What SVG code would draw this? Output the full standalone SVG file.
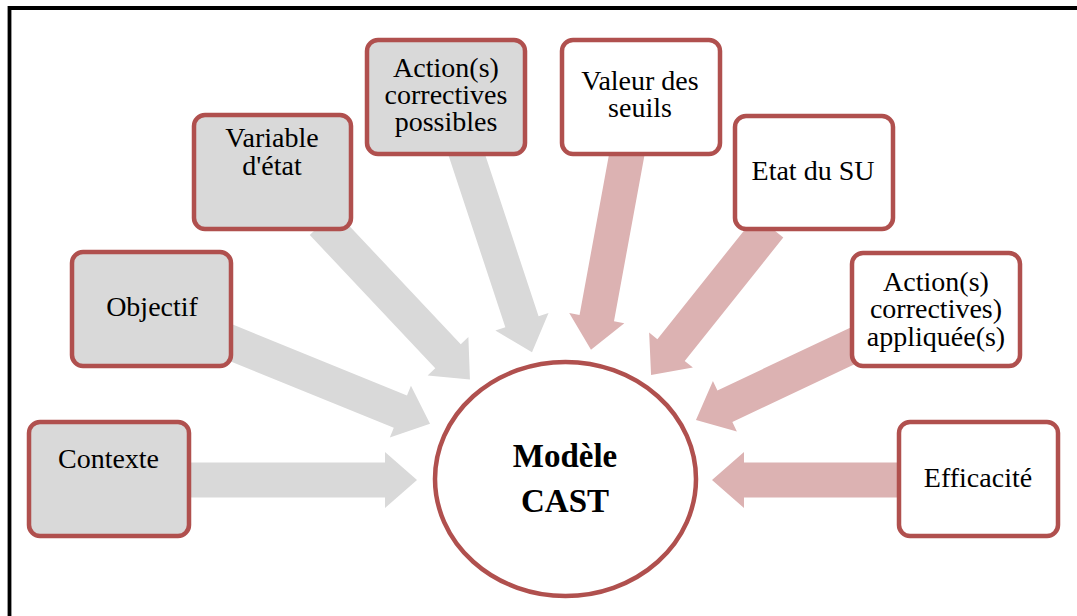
<svg xmlns="http://www.w3.org/2000/svg" width="1077" height="616" viewBox="0 0 1077 616">
<style>
.box{stroke:#b0504e;stroke-width:4.5}
.g{fill:#d9d9d9}
.w{fill:#ffffff}
.ag{fill:#d9d9d9}
.ap{fill:#dcb2b2}
text{font-family:"Liberation Serif","Times New Roman",serif;font-size:28px;fill:#000;text-anchor:middle}
.b{font-weight:bold;font-size:33px}
</style>
<rect width="1077" height="616" fill="#ffffff"/>
<path d="M9.5,616 V8 H1077" fill="none" stroke="#000" stroke-width="3.8"/>
<g id="connectors">
  <path class="ag" transform="translate(185,480) rotate(0)" d="M0,-17.5 H200 V-28 L232,0 L200,28 V17.5 H0 Z"/>
  <path class="ag" transform="translate(217,337) rotate(22.15)" d="M0,-17.5 H198 V-28 L230,0 L198,28 V17.5 H0 Z"/>
  <path class="ag" transform="translate(322.5,223) rotate(46.7)" d="M0,-17.5 H183 V-28 L215,0 L183,28 V17.5 H0 Z"/>
  <path class="ag" transform="translate(464.5,148) rotate(71.7)" d="M0,-17.5 H183 V-28 L215,0 L183,28 V17.5 H0 Z"/>
  <path class="ap" transform="translate(628,148) rotate(100.4)" d="M0,-17.5 H173 V-28 L205,0 L173,28 V17.5 H0 Z"/>
  <path class="ap" transform="translate(769.6,226.6) rotate(128.6)" d="M0,-17.5 H158 V-28 L190,0 L158,28 V17.5 H0 Z"/>
  <path class="ap" transform="translate(858.7,343) rotate(154.7)" d="M0,-17.5 H148 V-28 L180,0 L148,28 V17.5 H0 Z"/>
  <path class="ap" transform="translate(900,480) rotate(180)" d="M0,-17.5 H156 V-28 L188,0 L156,28 V17.5 H0 Z"/>
</g>
<g id="contexte">
  <rect class="box g" x="29" y="422" width="160" height="114" rx="11"/>
  <text x="108.5" y="468">Contexte</text>
</g>
<g id="objectif">
  <rect class="box g" x="72" y="252" width="159" height="114" rx="11"/>
  <text x="152" y="316">Objectif</text>
</g>
<g id="variable-etat">
  <rect class="box g" x="194" y="115" width="157" height="114" rx="11"/>
  <text x="272" y="147">Variable</text>
  <text x="272" y="175">d'état</text>
</g>
<g id="actions-possibles">
  <rect class="box g" x="367" y="40" width="158" height="114" rx="11"/>
  <text x="446" y="77">Action(s)</text>
  <text x="446" y="104">correctives</text>
  <text x="446" y="131">possibles</text>
</g>
<g id="valeur-seuils">
  <rect class="box w" x="562" y="40" width="158" height="114" rx="11"/>
  <text x="640" y="90">Valeur des</text>
  <text x="640" y="117">seuils</text>
</g>
<g id="etat-su">
  <rect class="box w" x="735" y="116" width="158" height="113" rx="11"/>
  <text x="813" y="180">Etat du SU</text>
</g>
<g id="actions-appliquees">
  <rect class="box w" x="852" y="253" width="168" height="113" rx="11"/>
  <text x="936" y="291">Action(s)</text>
  <text x="936" y="318">correctives)</text>
  <text x="936" y="346">appliquée(s)</text>
</g>
<g id="efficacite">
  <rect class="box w" x="899" y="422" width="159" height="114" rx="11"/>
  <text x="978" y="487">Efficacité</text>
</g>
<g id="modele-cast">
  <ellipse cx="565.5" cy="479" rx="130.5" ry="117" fill="#ffffff" stroke="#b0504e" stroke-width="4.5"/>
  <text class="b" x="565" y="467">Modèle</text>
  <text class="b" x="565" y="512">CAST</text>
</g>
</svg>
